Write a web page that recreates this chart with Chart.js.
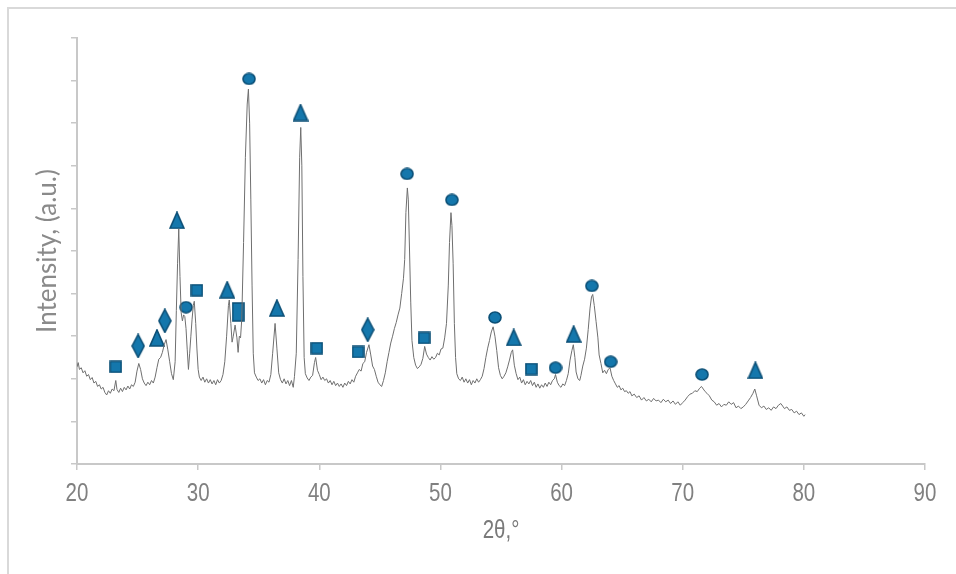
<!DOCTYPE html>
<html>
<head>
<meta charset="utf-8">
<script src="https://cdn.jsdelivr.net/npm/chart.js@4.4.1/dist/chart.umd.min.js"></script>
<style>
    html, body { margin: 0; padding: 0; background: #fff; }
    #wrap { position: relative; width: 956px; height: 574px; }
</style>
</head>
<body>
<div id="wrap"><canvas id="xrdChart"></canvas></div>
<script>
// XRD pattern
const twoTheta = [
    20.0, 20.1, 20.2, 20.35, 20.5, 20.65, 20.8, 20.95, 21.1, 21.25, 21.4, 21.55, 21.7, 21.85, 22.0, 22.15, 22.3, 22.45, 22.6, 22.75,
    22.9, 23.05, 23.2, 23.3, 23.45, 23.6, 23.75, 23.9, 24.05, 24.2, 24.35, 24.5, 24.65, 24.8, 24.95, 25.1, 25.25, 25.4, 25.55, 25.7,
    25.85, 26.0, 26.15, 26.3, 26.45, 26.6, 26.75, 26.9, 27.05, 27.2, 27.35, 27.5, 27.65, 27.8, 27.95, 28.1, 28.2, 28.3, 28.4, 28.5,
    28.6, 28.7, 28.8, 28.9, 29.0, 29.1, 29.2, 29.3, 29.4, 29.5, 29.6, 29.68, 29.8, 29.9, 30.0, 30.1, 30.25, 30.4, 30.55, 30.7,
    30.85, 31.0, 31.15, 31.3, 31.45, 31.6, 31.75, 31.9, 32.05, 32.2, 32.35, 32.5, 32.57, 32.7, 32.8, 32.9, 33.05, 33.2, 33.3, 33.4,
    33.5, 33.6, 33.75, 33.9, 34.05, 34.15, 34.25, 34.35, 34.45, 34.55, 34.65, 34.8, 34.95, 35.1, 35.25, 35.4, 35.55, 35.7, 35.85, 36.0,
    36.15, 36.35, 36.5, 36.65, 36.8, 36.95, 37.1, 37.25, 37.4, 37.55, 37.7, 37.85, 37.95, 38.1, 38.25, 38.38, 38.47, 38.56, 38.65, 38.75,
    38.85, 39.0, 39.15, 39.3, 39.45, 39.6, 39.7, 39.85, 40.0, 40.15, 40.3, 40.45, 40.6, 40.75, 40.9, 41.05, 41.2, 41.35, 41.5, 41.65,
    41.8, 41.95, 42.1, 42.25, 42.4, 42.55, 42.7, 42.85, 43.0, 43.15, 43.3, 43.45, 43.6, 43.75, 43.9, 44.1, 44.25, 44.4, 44.55, 44.7,
    44.85, 45.0, 45.15, 45.3, 45.45, 45.6, 45.75, 45.9, 46.05, 46.2, 46.35, 46.5, 46.65, 46.8, 46.95, 47.05, 47.15, 47.27, 47.35, 47.45,
    47.55, 47.65, 47.8, 47.95, 48.1, 48.25, 48.4, 48.55, 48.7, 48.85, 49.0, 49.15, 49.3, 49.45, 49.6, 49.75, 49.9, 50.05, 50.2, 50.35,
    50.5, 50.65, 50.75, 50.87, 50.95, 51.05, 51.15, 51.25, 51.35, 51.5, 51.65, 51.8, 51.95, 52.1, 52.25, 52.4, 52.55, 52.7, 52.85, 53.0,
    53.15, 53.3, 53.45, 53.6, 53.75, 53.9, 54.05, 54.2, 54.35, 54.5, 54.65, 54.8, 54.95, 55.1, 55.25, 55.4, 55.55, 55.7, 55.85, 55.96,
    56.1, 56.25, 56.4, 56.55, 56.7, 56.85, 57.0, 57.15, 57.3, 57.45, 57.6, 57.75, 57.9, 58.05, 58.2, 58.35, 58.5, 58.65, 58.8, 58.95,
    59.1, 59.25, 59.4, 59.5, 59.65, 59.8, 59.95, 60.1, 60.25, 60.4, 60.55, 60.7, 60.85, 60.97, 61.1, 61.2, 61.35, 61.5, 61.6, 61.75,
    61.9, 62.05, 62.2, 62.35, 62.47, 62.57, 62.7, 62.85, 63.0, 63.1, 63.25, 63.4, 63.55, 63.7, 63.85, 64.0, 64.15, 64.3, 64.45, 64.6,
    64.75, 64.9, 65.05, 65.2, 65.35, 65.5, 65.65, 65.8, 66.0, 66.2, 66.4, 66.6, 66.8, 67.0, 67.2, 67.4, 67.6, 67.8, 68.0, 68.2,
    68.4, 68.6, 68.8, 69.0, 69.2, 69.4, 69.6, 69.8, 70.0, 70.2, 70.4, 70.6, 70.8, 71.0, 71.2, 71.4, 71.55, 71.7, 71.85, 72.0,
    72.2, 72.4, 72.6, 72.8, 73.0, 73.2, 73.4, 73.6, 73.8, 74.0, 74.2, 74.4, 74.6, 74.8, 75.0, 75.2, 75.4, 75.6, 75.8, 75.95,
    76.1, 76.3, 76.5, 76.7, 76.9, 77.1, 77.3, 77.5, 77.7, 77.9, 78.1, 78.25, 78.4, 78.6, 78.8, 79.0, 79.2, 79.4, 79.6, 79.8,
    80.0, 80.1
];
const intensity = [
    228, 238, 222, 226, 214, 219, 206, 210, 198, 203, 190, 194, 182, 186, 176, 180, 168, 162, 172, 166,
    176, 172, 196, 175, 168, 178, 170, 180, 174, 183, 176, 186, 182, 192, 218, 236, 222, 200, 190, 184,
    192, 186, 196, 190, 204, 226, 246, 250, 262, 280, 292, 268, 240, 212, 198, 240, 360, 470, 552, 440,
    355, 336, 350, 346, 318, 268, 222, 260, 300, 340, 372, 382, 330, 270, 222, 204, 196, 204, 192, 200,
    190, 198, 188, 196, 186, 198, 190, 196, 210, 240, 300, 372, 385, 330, 286, 300, 326, 296, 262, 300,
    296, 340, 520, 720, 845, 880, 800, 620, 420, 260, 214, 204, 196, 200, 190, 198, 186, 196, 192, 210,
    260, 330, 272, 214, 198, 190, 200, 188, 196, 184, 196, 180, 205, 260, 480, 720, 790, 700, 440, 250,
    212, 202, 196, 204, 208, 238, 250, 220, 210, 198, 204, 196, 200, 190, 196, 186, 194, 184, 190, 182,
    188, 180, 190, 184, 194, 188, 198, 192, 206, 214, 222, 218, 236, 240, 262, 280, 256, 230, 222, 206,
    192, 186, 182, 196, 214, 240, 262, 284, 300, 318, 332, 350, 366, 400, 436, 480, 590, 648, 620, 500,
    380, 290, 250, 232, 224, 228, 234, 248, 276, 258, 250, 244, 252, 246, 250, 260, 256, 270, 272, 296,
    330, 420, 520, 590, 560, 470, 330, 250, 212, 200, 196, 204, 192, 200, 190, 198, 186, 196, 190, 200,
    192, 198, 206, 224, 250, 272, 290, 310, 322, 300, 266, 226, 208, 200, 206, 214, 228, 244, 262, 268,
    232, 212, 198, 204, 190, 198, 186, 194, 188, 196, 184, 192, 180, 188, 178, 186, 180, 190, 182, 192,
    186, 196, 200, 210, 192, 184, 180, 188, 184, 196, 212, 244, 266, 280, 250, 216, 200, 196, 208, 230,
    246, 272, 316, 366, 392, 398, 372, 334, 296, 256, 236, 214, 220, 212, 222, 226, 206, 196, 188, 180,
    184, 174, 178, 170, 172, 166, 170, 160, 164, 156, 160, 150, 156, 148, 152, 146, 154, 148, 150, 144,
    152, 146, 150, 142, 148, 140, 146, 138, 144, 150, 158, 164, 166, 172, 170, 178, 182, 176, 170, 166,
    160, 150, 146, 138, 142, 134, 140, 138, 146, 140, 144, 132, 136, 130, 134, 140, 148, 156, 166, 176,
    160, 138, 132, 136, 128, 132, 126, 134, 130, 138, 142, 136, 130, 134, 126, 128, 120, 124, 116, 120,
    112, 116
];

// phase markers
const squareX = [23.2, 29.9, 39.8, 43.2, 48.65, 57.5];
const squareY = [228, 408, 272, 263, 296, 223];
const tallRectX = [33.3];
const tallRectY = [357];
const diamondX = [25.05, 27.25, 44.0];
const diamondY = [277, 336, 315];
const triangleX = [26.6, 28.25, 32.4, 36.5, 38.45, 56.05, 61.0, 76.0];
const triangleY = [296, 572, 409, 366, 825, 297, 305, 220];
const circleX = [29.0, 34.2, 47.25, 50.95, 54.5, 59.5, 62.5, 64.05, 71.6];
const circleY = [368, 904, 681, 620, 344, 226, 418, 240, 210];

const xTicks = [20, 30, 40, 50, 60, 70, 80, 90];
const xTitle = '2θ,°';

const fillColor = '#1477ac';
const edgeColor = '#0b4f76';

function makeMarker(w, h, draw) {
    const c = document.createElement('canvas');
    c.width = w;
    c.height = h;
    const g = c.getContext('2d');
    g.fillStyle = fillColor;
    g.strokeStyle = edgeColor;
    g.lineWidth = 1.6;
    g.beginPath();
    draw(g, w, h);
    g.closePath();
    g.fill();
    g.stroke();
    return c;
}

const squareImg = makeMarker(13, 13, (g, w, h) => g.rect(1, 1, w - 2, h - 2));
const tallRectImg = makeMarker(13, 20, (g, w, h) => g.rect(1, 1, w - 2, h - 2));
const diamondImg = makeMarker(14, 25, (g, w, h) => {
    g.moveTo(w / 2, 1);
    g.lineTo(w - 1, h / 2);
    g.lineTo(w / 2, h - 1);
    g.lineTo(1, h / 2);
});
const triangleImg = makeMarker(16, 18, (g, w, h) => {
    g.moveTo(w / 2, 1);
    g.lineTo(w - 1, h - 1);
    g.lineTo(1, h - 1);
});
const circleImg = makeMarker(14, 13, (g, w, h) => g.ellipse(w / 2, h / 2, w / 2 - 1, h / 2 - 1, 0, 0, Math.PI * 2));

function pts(xs, ys) {
    return xs.map((x, i) => ({ x: x, y: ys[i] }));
}

function markerSet(xs, ys, img) {
    return {
        type: 'scatter',
        data: pts(xs, ys),
        pointStyle: img,
        pointRadius: 7,
        showLine: false
    };
}

const framePlugin = {
    id: 'frame',
    beforeDraw(chart) {
        const ctx = chart.ctx;
        ctx.save();
        ctx.strokeStyle = '#d9d9d9';
        ctx.lineWidth = 2;
        ctx.beginPath();
        ctx.moveTo(8, 574);
        ctx.lineTo(8, 8);
        ctx.lineTo(956, 8);
        ctx.stroke();
        ctx.restore();
    }
};

// narrow-looking x labels: no condensed font is installed, so squeeze them
function narrowText(ctx, text, x, y, squeeze) {
    ctx.save();
    ctx.translate(x, y);
    ctx.scale(squeeze, 1);
    ctx.fillText(text, 0, 0);
    ctx.restore();
}

const xLabelPlugin = {
    id: 'xLabels',
    afterDraw(chart) {
        const ctx = chart.ctx;
        const xs = chart.scales.x;
        ctx.save();
        ctx.fillStyle = '#808080';
        ctx.textAlign = 'center';
        ctx.textBaseline = 'middle';
        ctx.font = "25px 'Liberation Sans', Arial, sans-serif";
        xTicks.forEach(v => narrowText(ctx, String(v), xs.getPixelForValue(v), xs.top + 30, 0.82));
        ctx.fillStyle = '#7a7a7a';
        ctx.font = "25px 'Liberation Sans', Arial, sans-serif";
        narrowText(ctx, xTitle, (chart.chartArea.left + chart.chartArea.right) / 2, xs.top + 67, 0.82);
        ctx.restore();
    }
};

const ctx = document.getElementById('xrdChart').getContext('2d');
const xrdChart = new Chart(ctx, {
    type: 'line',
    data: {
        datasets: [
            {
                data: pts(twoTheta, intensity),
                borderColor: '#6f6f6f',
                borderWidth: 1,
                pointRadius: 0,
                tension: 0,
                fill: false
            },
            markerSet(squareX, squareY, squareImg),
            markerSet(tallRectX, tallRectY, tallRectImg),
            markerSet(diamondX, diamondY, diamondImg),
            markerSet(triangleX, triangleY, triangleImg),
            markerSet(circleX, circleY, circleImg)
        ]
    },
    options: {
        responsive: true,
        maintainAspectRatio: false,
        animation: false,
        layout: { padding: { top: 38, right: 31, left: 0, bottom: 0 } },
        plugins: {
            legend: { display: false },
            tooltip: { enabled: false }
        },
        scales: {
            x: {
                type: 'linear',
                min: 20,
                max: 90,
                afterBuildTicks: function(scale) {
                    scale.ticks = xTicks.map(v => ({ value: v }));
                },
                afterFit: function(scale) {
                    scale.height = 110;
                },
                grid: {
                    drawOnChartArea: false,
                    drawTicks: true,
                    tickLength: 6,
                    color: '#c8c8c8',
                    lineWidth: 1.5
                },
                border: { display: true, color: '#c8c8c8', width: 2 },
                ticks: { display: false }
            },
            y: {
                min: 0,
                max: 1000,
                afterBuildTicks: function(scale) {
                    const t = [];
                    for (let v = 0; v <= 1000; v += 100) t.push({ value: v });
                    scale.ticks = t;
                },
                afterFit: function(scale) {
                    scale.width = 77;
                },
                grid: {
                    drawOnChartArea: false,
                    drawTicks: true,
                    tickLength: 6,
                    color: '#c8c8c8',
                    lineWidth: 1.5
                },
                border: { display: true, color: '#c8c8c8', width: 2 },
                ticks: { display: false },
                title: {
                    display: true,
                    text: 'Intensity, (a.u.)',
                    color: '#8a8a8a',
                    padding: { top: 32, bottom: 0 },
                    font: { family: "Lato, 'Open Sans', sans-serif", size: 26 }
                }
            }
        }
    },
    plugins: [framePlugin, xLabelPlugin]
});
</script>
</body>
</html>
